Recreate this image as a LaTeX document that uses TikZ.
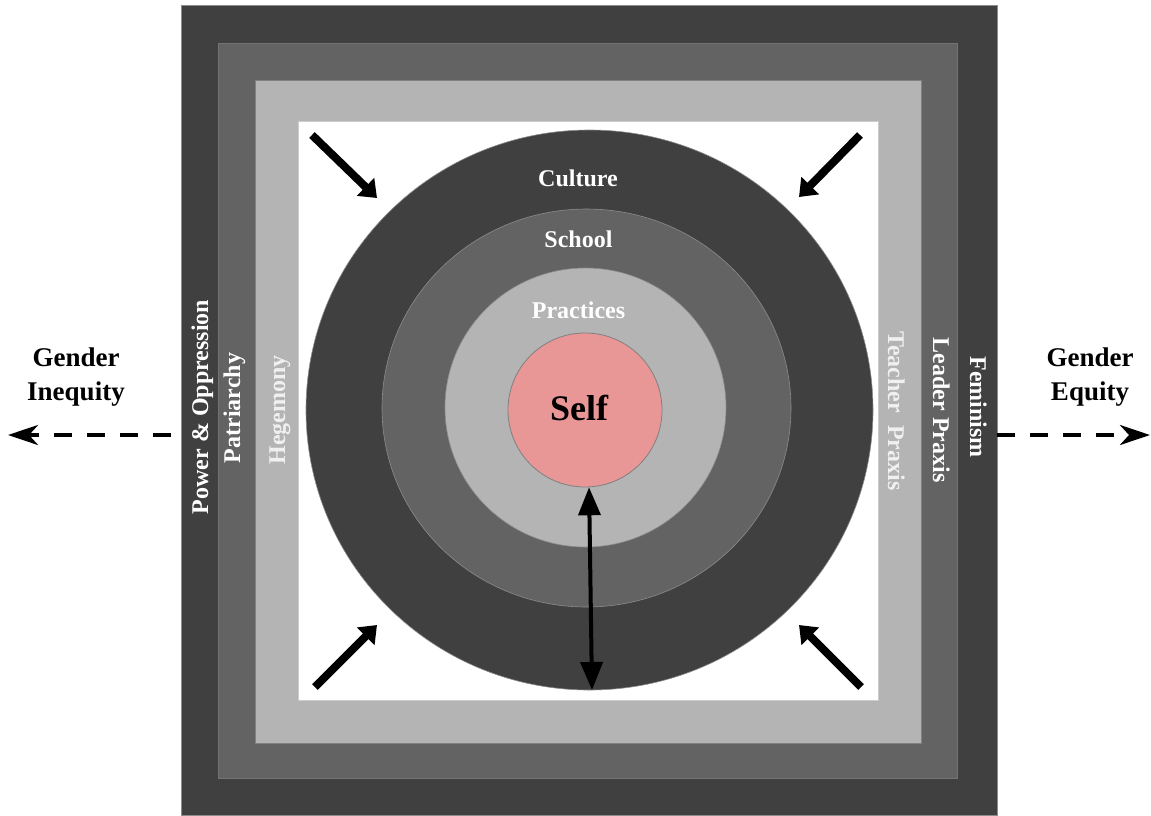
\documentclass[tikz,border=0pt]{standalone}
\usepackage{fontspec}
\setmainfont{Liberation Serif}
\usetikzlibrary{arrows.meta}
\definecolor{dk}{RGB}{64,64,64}
\definecolor{md}{RGB}{99,99,99}
\definecolor{lt}{RGB}{180,180,180}
\definecolor{selfc}{RGB}{232,150,150}
\tikzset{
  lbl/.style={text=white, font=\fontsize{24}{28}\selectfont\bfseries, inner sep=0pt},
  biglbl/.style={text=black, font=\fontsize{27}{34}\selectfont\bfseries, inner sep=0pt, align=center},
  band/.style={draw=black!55, line width=0.8pt},
  ring/.style={draw=black!45, line width=0.6pt},
  cornerarrow/.style={line width=8pt, -{Triangle[length=16pt,width=24pt]}},
  dasharrow/.style={line width=4pt, dash pattern=on 18pt off 15pt, -{Stealth[length=30pt,width=20pt,inset=9pt]}},
  radarrow/.style={line width=4pt, {Triangle[length=28pt,width=22pt]}-{Triangle[length=28pt,width=22pt]}}
}
\begin{document}
\begin{tikzpicture}[x=1pt,y=-1pt]
\useasboundingbox (0,0) rectangle (1151,815);
\fill[white] (0,0) rectangle (1151,815);
% nested squares
\filldraw[band, fill=dk, draw=black!45] (181,5) rectangle (997,815);
\filldraw[band, fill=md] (218,43) rectangle (957,778);
\filldraw[band, fill=lt, draw=black!50] (255,80) rectangle (921,743);
\filldraw[band, fill=white, draw=black!20] (298,121) rectangle (878,700);
% circles
\filldraw[ring, fill=dk] (589.5,410) ellipse [x radius=283.5pt, y radius=280pt];
\filldraw[ring, fill=md] (586.5,408) ellipse [x radius=204.5pt, y radius=199pt];
\filldraw[ring, fill=lt] (585.5,407.5) ellipse [x radius=140.5pt, y radius=139.5pt];
\node[circle, fill=selfc, draw=black!50, line width=0.8pt, minimum size=154pt, inner sep=0pt] (self) at (585,410) {};
\node[anchor=base, text=black, font=\fontsize{36}{40}\selectfont\bfseries, inner sep=0pt] (selft) at (579,420) {Self};
% ring labels
\node[lbl, anchor=base] (culture) at (578,186) {Culture};
\node[lbl, anchor=base] (school) at (578.5,247) {School};
\node[lbl, anchor=base] (practices) at (578.5,318) {Practices};
% side labels
\node[lbl, anchor=base, rotate=90] (power) at (208,407) {Power \& Oppression};
\node[lbl, anchor=base, rotate=90] (patri) at (240,408) {Patriarchy};
\node[lbl, anchor=base, rotate=90, text=white!94!black] (hege) at (285,410) {Hegemony};
\node[lbl, anchor=base, rotate=-90, text=white!94!black] (teach) at (888,411) {Teacher\ \ Praxis};
\node[lbl, anchor=base, rotate=-90] (leader) at (933,410) {Leader Praxis};
\node[lbl, anchor=base, rotate=-90] (femi) at (970,407) {Feminism};
% gender labels
\node[biglbl] (ineq) at (76,377) {Gender\\Inequity};
\node[biglbl] (eq) at (1090,377) {Gender\\Equity};
% dashed arrows
\coordinate (lstart) at (181,435);
\coordinate (lend) at (8,435);
\coordinate (rstart) at (997,435);
\coordinate (rend) at (1150,435);
\draw[dasharrow] ([xshift=-10pt]lstart) -- (lend);
\draw[dasharrow] (rstart) -- (rend);
% corner arrows
\coordinate (tl0) at (312,135); \coordinate (tl1) at (377,198);
\coordinate (tr0) at (860,135); \coordinate (tr1) at (799,197);
\coordinate (bl0) at (315,687); \coordinate (bl1) at (377,625);
\coordinate (br0) at (861,687); \coordinate (br1) at (799,625);
\draw[cornerarrow] (tl0) -- (tl1);
\draw[cornerarrow] (tr0) -- (tr1);
\draw[cornerarrow] (bl0) -- (bl1);
\draw[cornerarrow] (br0) -- (br1);
% radial double arrow
\coordinate (rim) at (592,690);
\draw[radarrow] (self.-87) -- (rim);
\end{tikzpicture}
\end{document}
